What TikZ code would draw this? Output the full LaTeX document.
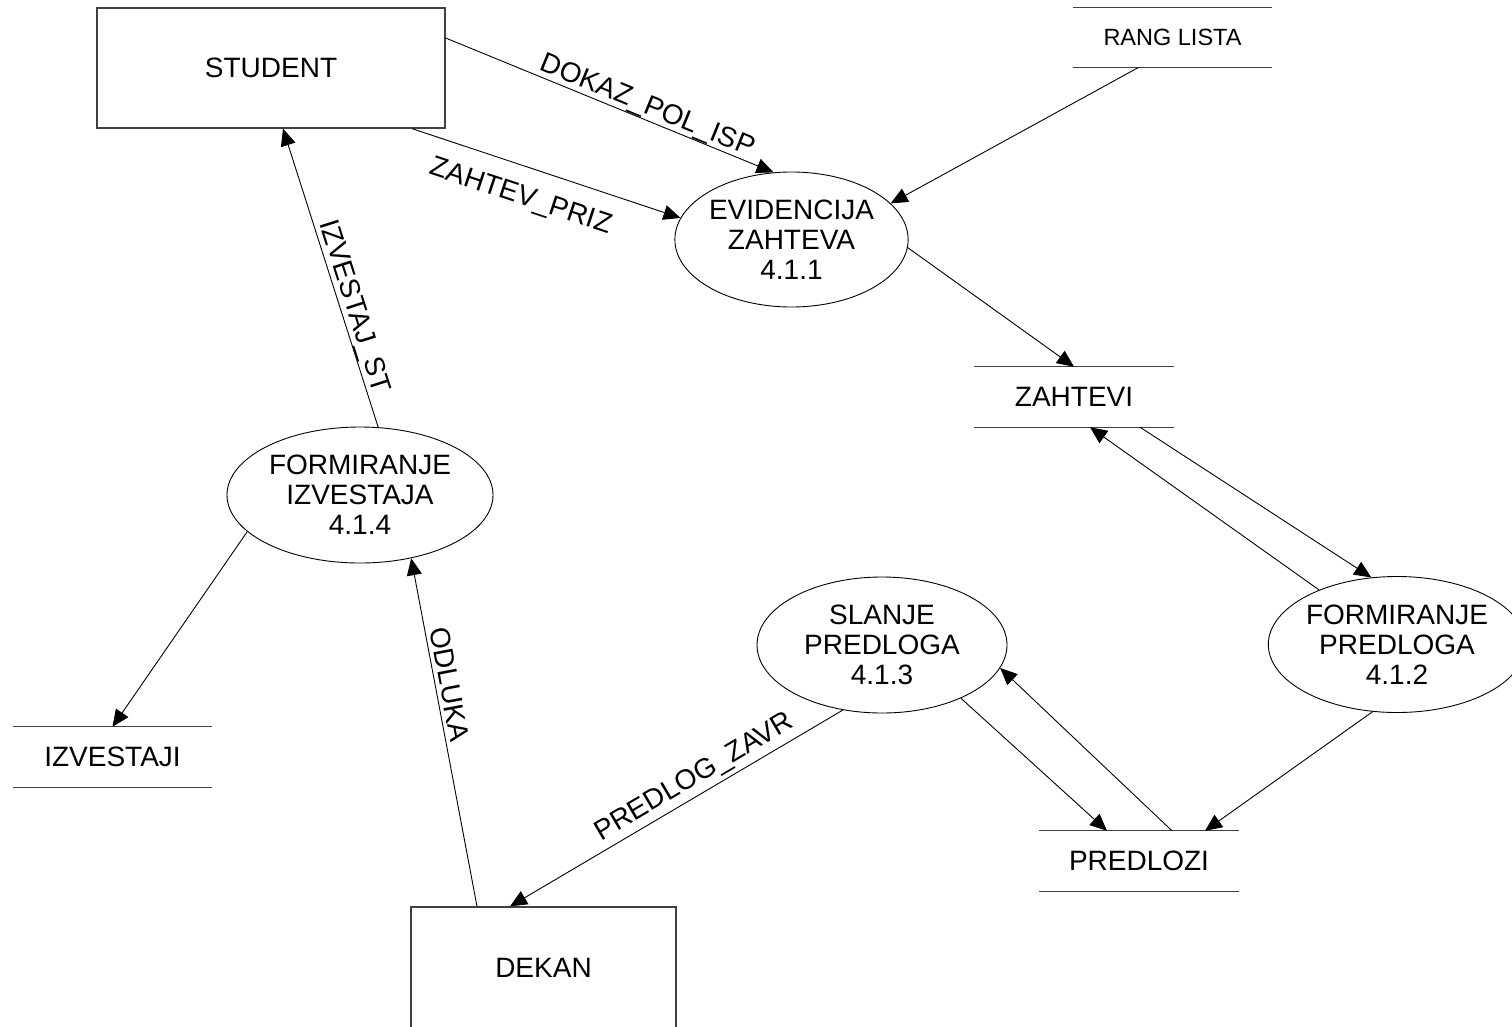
\documentclass[tikz,border=0pt]{standalone}
\usepackage{fontspec}
\setmainfont{Liberation Sans}
\usetikzlibrary{arrows.meta,shapes.geometric}
\begin{document}
\begin{tikzpicture}[x=1pt,y=-1pt,
  every node/.style={font=\fontsize{28}{30}\selectfont},
  entity/.style={draw=black!75, line width=1.3pt, rectangle, inner sep=0pt},
  process/.style={draw=black, line width=0.9pt, ellipse, inner sep=0pt, align=center},
  store/.style={inner sep=0pt, minimum width=199pt, minimum height=60pt},
  storeline/.style={draw=black!75, line width=1.3pt},
  flow/.style={draw=black, line width=0.9pt, -{Triangle[length=17pt,width=15pt]}},
  lbl/.style={sloped, inner sep=0pt}
]
\useasboundingbox (0,0) rectangle (1512,1026);
\clip (0,0) rectangle (1512,1026);

% external entities
\node[entity, minimum width=348pt, minimum height=120pt] (student) at (271,68) {STUDENT};
\node[entity, minimum width=265pt, minimum height=122pt] (dekan) at (543.5,968) {DEKAN};

% data stores
\node[store, font=\fontsize{23.5}{26}\selectfont] (rang) at (1172.5,37.5) {RANG LISTA};
\node[store] (zahtevi) at (1074,397) {ZAHTEVI};
\node[store] (predlozi) at (1139,861) {PREDLOZI};
\node[store] (izvestaji) at (112.5,757) {IZVESTAJI};
\foreach \s in {rang,zahtevi,predlozi,izvestaji}
  \draw[storeline] (\s.north west) -- (\s.north east) (\s.south west) -- (\s.south east);

% processes
\node[process, minimum width=231pt, minimum height=135pt] (evid) at (791.5,239.5) {EVIDENCIJA\\ZAHTEVA\\4.1.1};
\node[process, minimum width=266pt, minimum height=136pt] (fi) at (360,495) {FORMIRANJE\\IZVESTAJA\\4.1.4};
\node[process, minimum width=250pt, minimum height=136pt] (slanje) at (882,645) {SLANJE\\PREDLOGA\\4.1.3};
\node[process, minimum width=250pt, minimum height=136pt] (fp) at (1397,644.5) {FORMIRANJE\\PREDLOGA\\4.1.2};

% data flows
\draw[flow] ([yshift=30pt]student.east) -- node[lbl, above, pos=0.6] {DOKAZ\_POL\_ISP} (evid.105);
\draw[flow] ([xshift=141pt]student.south) -- node[lbl, below, pos=0.44, inner ysep=18pt] {ZAHTEV\_PRIZ} (evid.169);
\draw[flow] ([xshift=-34.5pt]rang.south) -- (evid.20);
\draw[flow] (evid.-4) -- (zahtevi.north);
\draw[flow] ([xshift=66pt]zahtevi.south) -- (fp.111);
\draw[flow] (fp.145) -- ([xshift=16pt]zahtevi.south);
\draw[flow] (fp.250) -- ([xshift=66pt]predlozi.north);
\draw[flow] (slanje.-34) -- ([xshift=-32pt]predlozi.north);
\draw[flow] ([xshift=33pt]predlozi.north) -- (slanje.-11);
\draw[flow] (slanje.239) -- node[lbl, above, pos=0.42, inner ysep=4pt] {PREDLOG\_ZAVR} ([xshift=-33.5pt]dekan.north);
\draw[flow] ([xshift=-66.5pt]dekan.north) -- node[lbl, above, pos=0.63, inner ysep=4pt] {ODLUKA} (fi.-51);
\draw[flow] (fi.75) -- node[lbl, above, pos=0.39] {IZVESTAJ\_ST} ([xshift=12pt]student.south);
\draw[flow] (fi.198) -- (izvestaji.north);
\end{tikzpicture}
\end{document}
